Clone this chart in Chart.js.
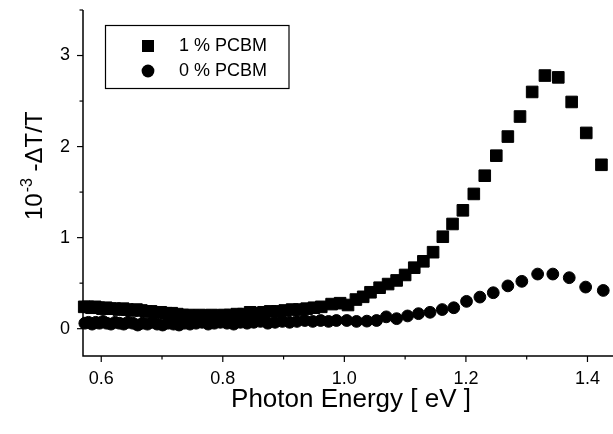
<!DOCTYPE html>
<html>
<head>
<meta charset="utf-8">
<script src="https://cdn.jsdelivr.net/npm/chart.js@4"></script>
<style>
  html, body { margin: 0; padding: 0; background: #fff; }
  #grafico { display: block; }
</style>
</head>
<body>
<canvas id="grafico" width="613" height="434"></canvas>
<script>
// 1 % PCBM (quadrados)
var sqX = [0.572, 0.578, 0.584, 0.590, 0.596, 0.602, 0.608, 0.615, 0.622, 0.629,
  0.636, 0.643, 0.650, 0.658, 0.666, 0.674, 0.682, 0.690, 0.698, 0.707,
  0.716, 0.725, 0.734, 0.743, 0.752, 0.762, 0.772, 0.782, 0.792, 0.802,
  0.812, 0.823, 0.834, 0.845, 0.856, 0.867, 0.878, 0.890, 0.902, 0.914,
  0.926, 0.938, 0.950, 0.962, 0.979, 0.993, 1.006, 1.019, 1.031, 1.043,
  1.058, 1.072, 1.086, 1.100, 1.115, 1.130, 1.146, 1.162, 1.178, 1.195,
  1.213, 1.231, 1.250, 1.269, 1.289, 1.309, 1.330, 1.352, 1.374, 1.398,
  1.423];
var sqY = [0.24, 0.24, 0.23, 0.24, 0.23, 0.22, 0.23, 0.22, 0.22, 0.21,
  0.22, 0.21, 0.20, 0.21, 0.20, 0.19, 0.19, 0.18, 0.18, 0.17,
  0.17, 0.16, 0.15, 0.15, 0.14, 0.15, 0.14, 0.15, 0.14, 0.15,
  0.15, 0.16, 0.16, 0.18, 0.17, 0.18, 0.19, 0.19, 0.20, 0.21,
  0.21, 0.22, 0.23, 0.24, 0.27, 0.28, 0.26, 0.32, 0.35, 0.40,
  0.45, 0.49, 0.53, 0.59, 0.67, 0.74, 0.84, 1.01, 1.15, 1.30,
  1.48, 1.68, 1.90, 2.11, 2.33, 2.60, 2.78, 2.76, 2.49, 2.15,
  1.80];

// 0 % PCBM (circulos)
var ciX = [0.573, 0.579, 0.585, 0.591, 0.597, 0.603, 0.609, 0.616, 0.623, 0.630,
  0.637, 0.644, 0.652, 0.660, 0.668, 0.676, 0.684, 0.692, 0.701, 0.710,
  0.719, 0.728, 0.737, 0.746, 0.756, 0.766, 0.776, 0.786, 0.796, 0.807,
  0.818, 0.829, 0.840, 0.851, 0.862, 0.874, 0.886, 0.898, 0.910, 0.922,
  0.935, 0.948, 0.961, 0.974, 0.987, 1.004, 1.020, 1.037, 1.053, 1.069,
  1.086, 1.104, 1.122, 1.141, 1.161, 1.180, 1.201, 1.223, 1.245, 1.269,
  1.292, 1.318, 1.343, 1.370, 1.397, 1.426];
var ciY = [0.06, 0.07, 0.05, 0.07, 0.06, 0.08, 0.06, 0.05, 0.07, 0.06,
  0.05, 0.07, 0.06, 0.04, 0.06, 0.05, 0.07, 0.05, 0.04, 0.06,
  0.05, 0.04, 0.06, 0.05, 0.06, 0.07, 0.05, 0.06, 0.07, 0.06,
  0.05, 0.07, 0.06, 0.07, 0.08, 0.06, 0.07, 0.08, 0.07, 0.08,
  0.09, 0.08, 0.09, 0.08, 0.09, 0.09, 0.08, 0.083, 0.09, 0.13,
  0.11, 0.14, 0.165, 0.18, 0.21, 0.23, 0.30, 0.347, 0.395, 0.47,
  0.52, 0.60, 0.60, 0.56, 0.457, 0.42];

var nomes = ['1 % PCBM', '0 % PCBM'];
var tituloX = 'Photon Energy [ eV ]';
var tituloY = ['10', '-3', ' -\u0394T/T'];

var fonte = "'Liberation Sans', Arial, Helvetica, sans-serif";

function pares(xs, ys) {
  return xs.map(function (v, i) { return { x: v, y: ys[i] }; });
}

// eixos, marcas, titulos e legenda desenhados a mao
var eixosPlugin = {
  id: 'eixos',
  afterDraw: function (chart) {
    var ctx = chart.ctx, a = chart.chartArea;
    var sx = chart.scales.x, sy = chart.scales.y;
    ctx.save();
    ctx.strokeStyle = '#000';
    ctx.lineWidth = 1.5;
    ctx.beginPath();
    ctx.moveTo(a.left, a.top);
    ctx.lineTo(a.left, a.bottom);
    ctx.lineTo(a.right, a.bottom);
    ctx.stroke();

    ctx.lineWidth = 1.2;
    sx.ticks.forEach(function (t) {
      var px = sx.getPixelForValue(t.value);
      var major = Math.round(t.value * 10) % 2 === 0;
      ctx.beginPath();
      ctx.moveTo(px, a.bottom);
      ctx.lineTo(px, a.bottom + (major ? 6 : 3.5));
      ctx.stroke();
    });
    sy.ticks.forEach(function (t) {
      var py = sy.getPixelForValue(t.value);
      var major = Math.abs(t.value - Math.round(t.value)) < 1e-6;
      ctx.beginPath();
      ctx.moveTo(a.left, py);
      ctx.lineTo(a.left - (major ? 6 : 3.5), py);
      ctx.stroke();
    });

    // titulo eixo x
    ctx.fillStyle = '#000';
    ctx.font = '26px ' + fonte;
    ctx.textAlign = 'center';
    ctx.textBaseline = 'alphabetic';
    ctx.fillText(tituloX, 351, 407);

    // titulo eixo y com expoente
    ctx.translate(42, 220);
    ctx.rotate(-Math.PI / 2);
    ctx.textAlign = 'left';
    ctx.font = '24px ' + fonte;
    ctx.fillText(tituloY[0], 0, 0);
    var w = ctx.measureText(tituloY[0]).width;
    ctx.font = '16px ' + fonte;
    ctx.fillText(tituloY[1], w + 1, -10);
    w += ctx.measureText(tituloY[1]).width + 1;
    ctx.font = '24px ' + fonte;
    ctx.fillText(tituloY[2], w, 0);
    ctx.restore();

    // legenda
    ctx.save();
    ctx.strokeStyle = '#000';
    ctx.lineWidth = 1.2;
    ctx.strokeRect(105.5, 25.5, 183.5, 63);
    ctx.fillStyle = '#000';
    ctx.fillRect(142, 40, 12, 12);
    ctx.beginPath();
    ctx.arc(148, 71, 6.4, 0, Math.PI * 2);
    ctx.fill();
    ctx.font = '18px ' + fonte;
    ctx.textAlign = 'left';
    ctx.textBaseline = 'middle';
    ctx.fillText(chart.data.datasets[0].label, 179, 46);
    ctx.fillText(chart.data.datasets[1].label, 179, 71);
    ctx.restore();
  }
};

var ctx = document.getElementById('grafico').getContext('2d');
var chart = new Chart(ctx, {
  type: 'scatter',
  data: {
    datasets: [{
      label: nomes[0],
      data: pares(sqX, sqY),
      pointStyle: 'rect',
      pointRadius: 8.2,
      borderWidth: 1,
      backgroundColor: '#000',
      borderColor: '#000',
      clip: false
    }, {
      label: nomes[1],
      data: pares(ciX, ciY),
      pointStyle: 'circle',
      pointRadius: 5.9,
      borderWidth: 1,
      backgroundColor: '#000',
      borderColor: '#000',
      clip: false
    }]
  },
  options: {
    responsive: false,
    animation: false,
    devicePixelRatio: 1,
    layout: { autoPadding: false, padding: { top: 10, right: 0, bottom: 0, left: 0 } },
    plugins: { legend: { display: false }, tooltip: { enabled: false } },
    scales: {
      x: {
        type: 'linear',
        min: 0.57,
        max: 1.442,
        grid: { display: false, drawTicks: false },
        border: { display: false },
        afterFit: function (s) { s.height = 78; s.paddingLeft = 0; s.paddingRight = 0; },
        ticks: {
          stepSize: 0.1,
          includeBounds: false,
          autoSkip: false,
          maxRotation: 0,
          padding: 12,
          color: '#000',
          font: { size: 18, family: fonte },
          callback: function (v) {
            return Math.round(v * 10) % 2 === 0 ? v.toFixed(1) : '';
          }
        }
      },
      y: {
        type: 'linear',
        min: -0.3,
        max: 3.5,
        grid: { display: false, drawTicks: false },
        border: { display: false },
        afterFit: function (s) { s.width = 83; s.paddingTop = 0; s.paddingBottom = 0; },
        ticks: {
          stepSize: 0.5,
          includeBounds: false,
          autoSkip: false,
          padding: 13,
          color: '#000',
          font: { size: 18, family: fonte },
          callback: function (v) {
            return Math.abs(v - Math.round(v)) < 1e-6 ? String(Math.round(v)) : '';
          }
        }
      }
    }
  },
  plugins: [eixosPlugin]
});
</script>
</body>
</html>
